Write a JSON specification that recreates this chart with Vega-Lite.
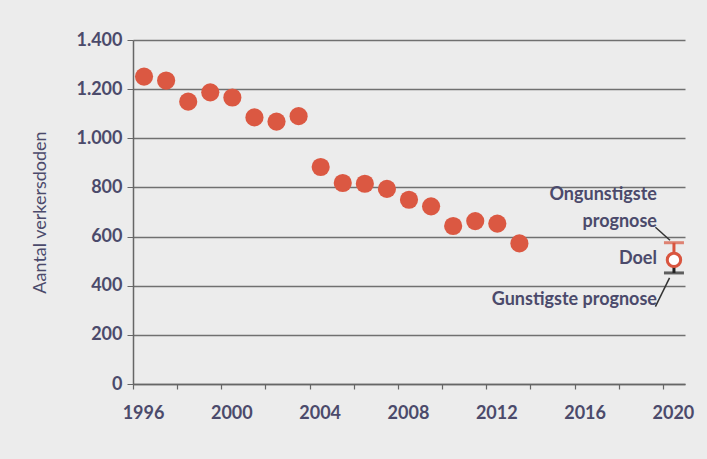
{
  "$schema": "https://vega.github.io/schema/vega-lite/v6.json",
  "width": 552,
  "height": 344,
  "autosize": "none",
  "padding": {"left": 133, "top": 40, "right": 22, "bottom": 75},
  "background": "#ececec",
  "config": {"view": {"stroke": null}, "font": "Lato"},
  "datasets": {
    "doden": [
      {"jaar": 1996, "doden": 1251},
      {"jaar": 1997, "doden": 1235},
      {"jaar": 1998, "doden": 1149},
      {"jaar": 1999, "doden": 1187},
      {"jaar": 2000, "doden": 1166},
      {"jaar": 2001, "doden": 1085},
      {"jaar": 2002, "doden": 1068},
      {"jaar": 2003, "doden": 1090},
      {"jaar": 2004, "doden": 883},
      {"jaar": 2005, "doden": 818},
      {"jaar": 2006, "doden": 815},
      {"jaar": 2007, "doden": 794},
      {"jaar": 2008, "doden": 750},
      {"jaar": 2009, "doden": 723},
      {"jaar": 2010, "doden": 643},
      {"jaar": 2011, "doden": 663},
      {"jaar": 2012, "doden": 653},
      {"jaar": 2013, "doden": 572}
    ],
    "prognose": [
      {"jaar": 2020, "doel": 505, "ongunstig": 575, "gunstig": 452}
    ],
    "labels": [
      {"jaar": 2020, "waarde": 769, "tekst": "Ongunstigste"},
      {"jaar": 2020, "waarde": 659, "tekst": "prognose"},
      {"jaar": 2020, "waarde": 508, "tekst": "Doel"},
      {"jaar": 2020, "waarde": 342, "tekst": "Gunstigste prognose"}
    ],
    "leaders": [
      {"x1": 2019.16, "y1": 638, "x2": 2019.82, "y2": 585},
      {"x1": 2019.16, "y1": 315, "x2": 2019.8, "y2": 432}
    ]
  },
  "layer": [
    {
      "data": {"name": "doden"},
      "mark": {"type": "point", "filled": true, "size": 330, "color": "#db5842", "opacity": 1},
      "encoding": {
        "x": {
          "field": "jaar", "type": "quantitative", "title": null,
          "scale": {"domain": [1995.5, 2020.5], "nice": false, "zero": false},
          "axis": {
            "title": null,
            "grid": false,
            "values": [1995.5, 1996.5, 1997.5, 1998.5, 1999.5, 2000.5, 2001.5, 2002.5, 2003.5, 2004.5, 2005.5, 2006.5, 2007.5, 2008.5, 2009.5, 2010.5, 2011.5, 2012.5, 2013.5, 2014.5, 2015.5, 2016.5, 2017.5, 2018.5, 2019.5, 2020.5],
            "labelExpr": "(datum.value + 0.5) % 4 == 0 ? toString(datum.value + 0.5) : ''",
            "labelOffset": 10,
            "labelFlush": false,
            "labelOverlap": false,
            "labelFontSize": 18,
            "labelFontWeight": "bold",
            "labelColor": "#4b4a6b",
            "labelPadding": 15,
            "domainColor": "#666666",
            "domainWidth": 1.5,
            "tickColor": "#666666",
            "tickWidth": 1.2,
            "tickSize": 5
          }
        },
        "y": {
          "field": "doden", "type": "quantitative", "title": "Aantal verkersdoden",
          "scale": {"domain": [0, 1400], "nice": false},
          "axis": {
            "title": "Aantal verkersdoden",
            "values": [0, 200, 400, 600, 800, 1000, 1200, 1400],
            "labelExpr": "replace(format(datum.value, ','), ',', '.')",
            "grid": true,
            "gridColor": "#707070",
            "gridWidth": 1.6,
            "domainColor": "#666666",
            "domainWidth": 1.5,
            "tickColor": "#666666",
            "tickSize": 6,
            "labelFontSize": 18,
            "labelFontWeight": "bold",
            "labelColor": "#4b4a6b",
            "labelPadding": 5,
            "titleFontSize": 18,
            "titleFontWeight": "normal",
            "titleColor": "#4b4a6b",
            "titlePadding": 26
          }
        }
      }
    },
    {
      "data": {"name": "prognose"},
      "mark": {"type": "rule", "color": "#d9553f", "strokeWidth": 3},
      "encoding": {
        "x": {"field": "jaar", "type": "quantitative"},
        "y": {"field": "doel", "type": "quantitative"},
        "y2": {"field": "ongunstig"}
      }
    },
    {
      "data": {"name": "prognose"},
      "mark": {"type": "rule", "color": "#222222", "strokeWidth": 3},
      "encoding": {
        "x": {"field": "jaar", "type": "quantitative"},
        "y": {"field": "gunstig", "type": "quantitative"},
        "y2": {"field": "doel"}
      }
    },
    {
      "data": {"name": "prognose"},
      "mark": {"type": "tick", "orient": "horizontal", "color": "#d9553f", "size": 20, "thickness": 3},
      "encoding": {
        "x": {"field": "jaar", "type": "quantitative"},
        "y": {"field": "ongunstig", "type": "quantitative"}
      }
    },
    {
      "data": {"name": "prognose"},
      "mark": {"type": "tick", "orient": "horizontal", "color": "#222222", "size": 20, "thickness": 3},
      "encoding": {
        "x": {"field": "jaar", "type": "quantitative"},
        "y": {"field": "gunstig", "type": "quantitative"}
      }
    },
    {
      "data": {"name": "prognose"},
      "mark": {"type": "point", "filled": true, "fill": "#ffffff", "stroke": "#d9553f", "strokeWidth": 3, "size": 180, "opacity": 1},
      "encoding": {
        "x": {"field": "jaar", "type": "quantitative"},
        "y": {"field": "doel", "type": "quantitative"}
      }
    },
    {
      "data": {"name": "labels"},
      "mark": {"type": "text", "align": "right", "baseline": "middle", "dx": -17, "fontSize": 18, "fontWeight": "bold", "color": "#4b4a6b"},
      "encoding": {
        "x": {"field": "jaar", "type": "quantitative"},
        "y": {"field": "waarde", "type": "quantitative"},
        "text": {"field": "tekst"}
      }
    },
    {
      "data": {"name": "leaders"},
      "mark": {"type": "rule", "color": "#333333", "strokeWidth": 1.5},
      "encoding": {
        "x": {"field": "x1", "type": "quantitative"},
        "y": {"field": "y1", "type": "quantitative"},
        "x2": {"field": "x2"},
        "y2": {"field": "y2"}
      }
    }
  ]
}
